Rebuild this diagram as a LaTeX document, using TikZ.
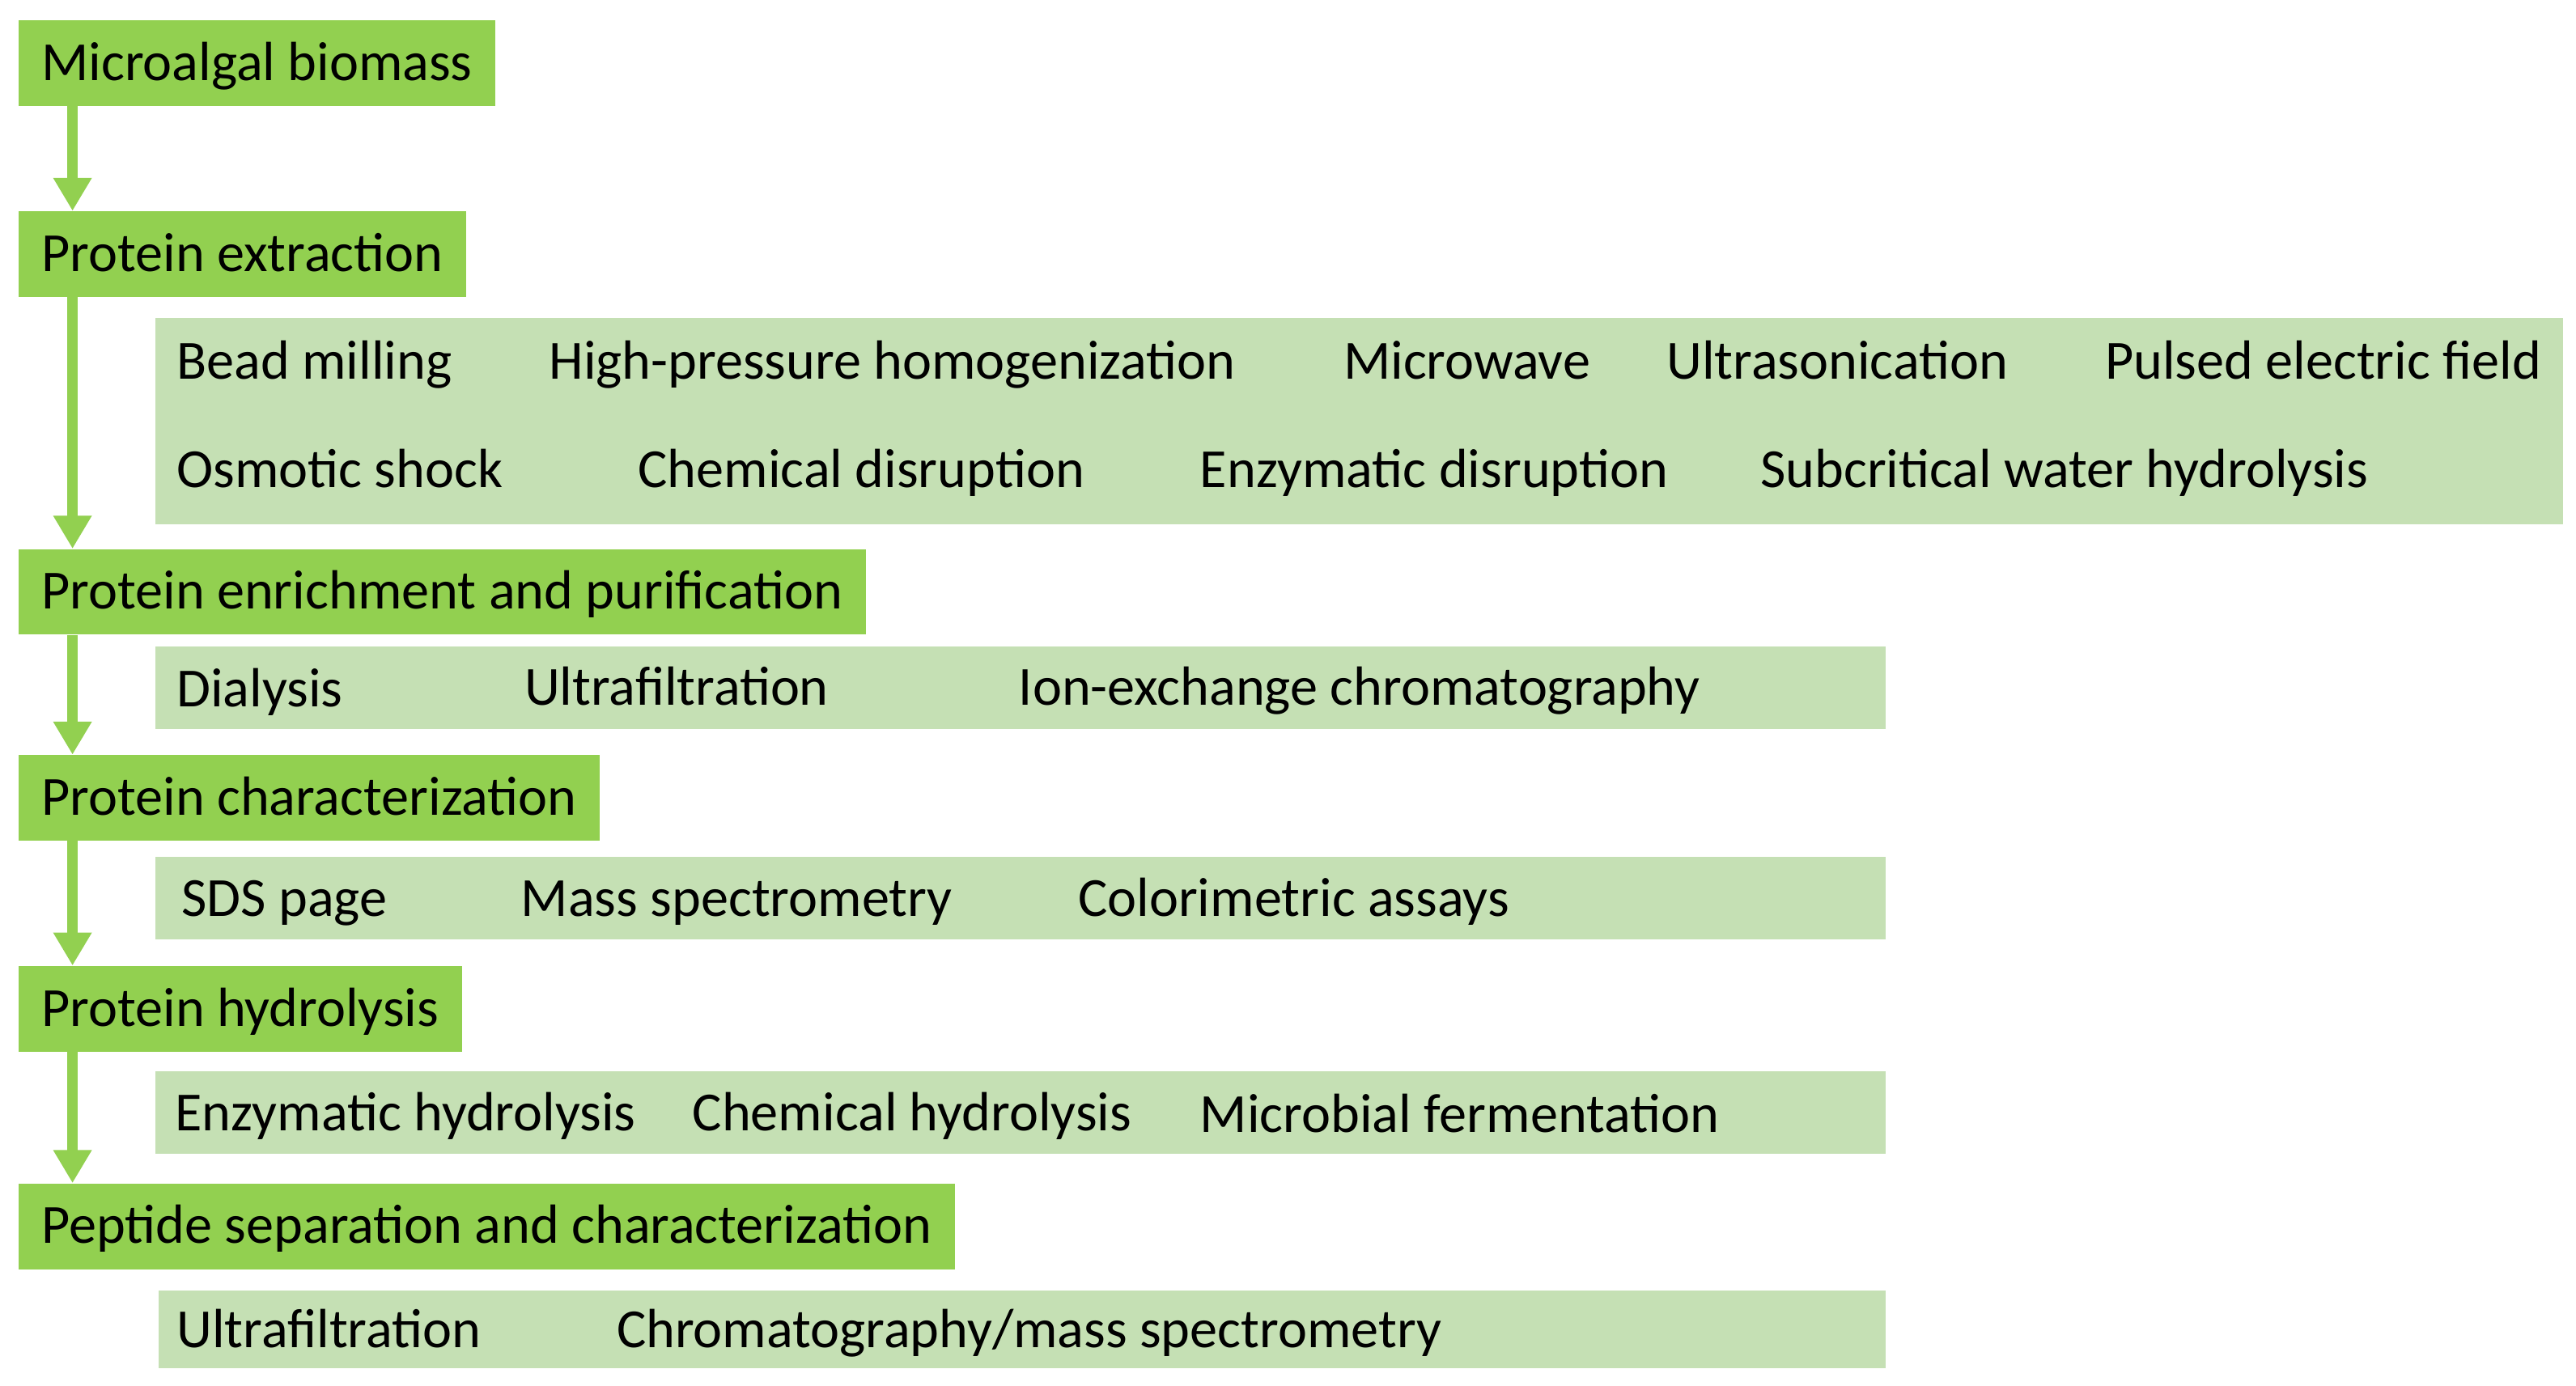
\documentclass[tikz,border=0pt]{standalone}
\usepackage{fontspec}
\setmainfont{Carlito}
\usetikzlibrary{arrows.meta}
\definecolor{stagegreen}{HTML}{92D050}
\definecolor{methodgreen}{HTML}{C5E0B4}

\begin{document}
\begin{tikzpicture}[x=1pt,y=-1pt,
      stage/.style={fill=stagegreen, anchor=north west, inner xsep=14pt, inner ysep=0pt,
        minimum height=52pt, text height=21pt, text depth=0pt, font=\fontsize{33.5}{40}\selectfont},
      methods/.style={fill=methodgreen, anchor=north west, inner sep=0pt},
      item/.style={anchor=base west, inner sep=0pt, font=\fontsize{33.5}{40}\selectfont},
      flow/.style={draw=stagegreen, line width=6pt, -{Triangle[length=20pt,width=22pt]}}
    ]
    \path[use as bounding box, fill=white] (0,0) rectangle (1563,841);

    % main stages
    \node[stage] (bio) at (11,12) {Microalgal biomass\hspace{3pt}};
    \node[stage] (ext) at (11,128) {Protein extraction\hspace{3pt}};
    \node[stage] (enr) at (11,333) {Protein enrichment and purification\hspace{3pt}};
    \node[stage] (cha) at (11,458) {Protein characterization\hspace{3pt}};
    \node[stage] (hyd) at (11,586) {Protein hydrolysis\hspace{3pt}};
    \node[stage] (pep) at (11,718) {Peptide separation and characterization\hspace{3pt}};

    % method boxes
    \node[methods, minimum width=1461pt, minimum height=125pt] (extm) at (94,193) {};
    \node[methods, minimum width=1050pt, minimum height=50pt] (enrm) at (94,392) {};
    \node[methods, minimum width=1050pt, minimum height=50pt] (cham) at (94,520) {};
    \node[methods, minimum width=1050pt, minimum height=50pt] (hydm) at (94,650) {};
    \node[methods, minimum width=1048pt, minimum height=47pt] (pepm) at (96,783) {};

    % methods
    \node[item] (bead) at (107,230) {Bead milling};
    \node[item] (hph) at (333,230) {High-pressure homogenization};
    \node[item] (micro) at (815,230) {Microwave};
    \node[item] (ultra) at (1011,230) {Ultrasonication};
    \node[item] (pef) at (1277,230) {Pulsed electric field};
    \node[item] (osm) at (107,296) {Osmotic shock};
    \node[item] (chem) at (387,296) {Chemical disruption};
    \node[item] (enz) at (728,296) {Enzymatic disruption};
    \node[item] (subw) at (1068,296) {Subcritical water hydrolysis};

    \node[item] (dial) at (107,429) {Dialysis};
    \node[item] (uf) at (318,428) {Ultrafiltration};
    \node[item] (iex) at (618,428) {Ion-exchange chromatography};

    \node[item] (sds) at (110,556) {SDS page};
    \node[item] (ms) at (316,556) {Mass spectrometry};
    \node[item] (col) at (654,556) {Colorimetric assays};

    \node[item] (ehyd) at (106,686) {Enzymatic hydrolysis};
    \node[item] (chyd) at (420,686) {Chemical hydrolysis};
    \node[item] (mfer) at (728,687) {Microbial fermentation};

    \node[item] (uf2) at (107,818) {Ultrafiltration};
    \node[item] (cms) at (374,818) {Chromatography/mass spectrometry};

    % arrows
    \draw[flow] ([xshift=33pt]bio.south west) -- ([xshift=33pt]ext.north west);
    \draw[flow] ([xshift=33pt]ext.south west) -- ([xshift=33pt]enr.north west);
    \draw[flow] ([xshift=33pt]enr.south west) -- ([xshift=33pt]cha.north west);
    \draw[flow] ([xshift=33pt]cha.south west) -- ([xshift=33pt]hyd.north west);
    \draw[flow] ([xshift=33pt]hyd.south west) -- ([xshift=33pt]pep.north west);
\end{tikzpicture}
\end{document}
